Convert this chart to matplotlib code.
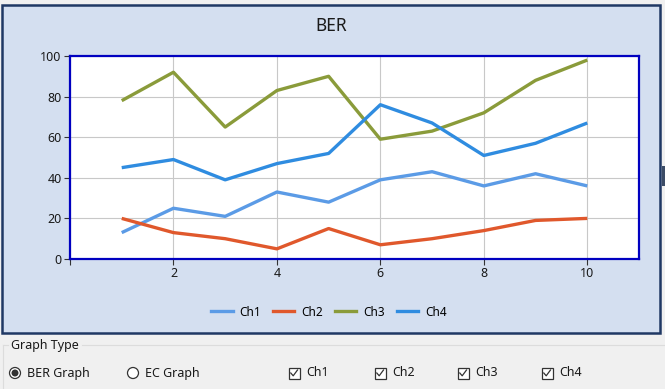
import matplotlib

matplotlib.use("Agg")
import matplotlib.pyplot as plt
from matplotlib.patches import Rectangle, Circle
from matplotlib.lines import Line2D

plt.rcParams["font.family"] = ["Noto Sans", "DejaVu Sans"]

x = [1, 2, 3, 4, 5, 6, 7, 8, 9, 10]
ch1 = [13, 25, 21, 33, 28, 39, 43, 36, 42, 36]
ch2 = [20, 13, 10, 5, 15, 7, 10, 14, 19, 20]
ch3 = [78, 92, 65, 83, 90, 59, 63, 72, 88, 98]
ch4 = [45, 49, 39, 47, 52, 76, 67, 51, 57, 67]
series_names = ["Ch1", "Ch2", "Ch3", "Ch4"]
colors = ["#5B9BE6", "#E0582C", "#8A9B3A", "#2F8CE0"]
x_ticks = [0, 2, 4, 6, 8, 10]
x_labels = ["", "2", "4", "6", "8", "10"]
y_ticks = [0, 20, 40, 60, 80, 100]

W, H = 665, 389
fig = plt.figure(figsize=(W / 100, H / 100), dpi=100, facecolor="#F0F0F0")


def px(x0, y0, w, h):
    # pixel box (top-left origin) -> figure fraction
    return [x0 / W, 1 - (y0 + h) / H, w / W, h / H]


# chart panel
fig.patches.append(Rectangle((2 / W, 1 - 333 / H), 658 / W, 328 / H, transform=fig.transFigure,
                             facecolor="#D4DFF0", edgecolor="#1F3864", lw=1.8, zorder=-2))
# bit of another control peeking on the right edge
fig.patches.append(Rectangle((662 / W, 1 - 186 / H), 3 / W, 20 / H, transform=fig.transFigure,
                             facecolor="#3C4C66", edgecolor="none", zorder=-2))

fig.text(331 / W, 1 - 26 / H, "BER", ha="center", va="center", fontsize=12.5, color="#1A1A1A")

ax = fig.add_axes(px(70, 56, 569, 203))
ax.set_facecolor("white")
for name, vals, c in zip(series_names, [ch1, ch2, ch3, ch4], colors):
    ax.plot(x, vals, color=c, lw=2.4, label=name, solid_capstyle="butt", zorder=3)
ax.set_xlim(0, 11)
ax.set_ylim(0, 100)
ax.set_xticks(x_ticks)
ax.set_xticklabels(x_labels)
ax.set_yticks(y_ticks)
ax.grid(True, color="#C8C8C8", lw=0.8)
for s in ax.spines.values():
    s.set_color("#0000C0")
    s.set_linewidth(1.6)
ax.tick_params(length=4, width=0.8, color="#333333", labelsize=9, labelcolor="#1A1A1A", pad=2)

handles = [Line2D([], [], color=c, lw=2.4) for c in colors]
fig.legend(handles, series_names, loc="center", bbox_to_anchor=(329 / W, 1 - 312 / H), ncol=4,
           frameon=False, fontsize=8.5, handlelength=1.8, columnspacing=1.0, handletextpad=0.6)

# group box
fig.add_artist(Line2D([82 / W, 1], [1 - 345 / H] * 2, color="#DCDCDC", lw=0.8))
fig.add_artist(Line2D([3 / W, 3 / W], [1 - 345 / H, 0], color="#DCDCDC", lw=0.8))
fig.add_artist(Line2D([3 / W, 8 / W], [1 - 345 / H] * 2, color="#DCDCDC", lw=0.8))
fig.text(11 / W, 1 - 345 / H, "Graph Type", ha="left", va="center", fontsize=9, color="#1A1A1A")

# radio buttons
ry = 373
for cx, label, on in [(15, "BER Graph", True), (133, "EC Graph", False)]:
    fig.patches.append(Circle((cx, H - ry), 5.5, transform=None, facecolor="white",
                              edgecolor="#333333", lw=0.9))
    if on:
        fig.patches.append(Circle((cx, H - ry), 3.5, transform=None, facecolor="#333333",
                                  edgecolor="none"))
    fig.text((cx + 12) / W, 1 - ry / H, label, ha="left", va="center", fontsize=9, color="#1A1A1A")

# check boxes
for bx, label in zip([294, 380, 463, 547], series_names):
    fig.patches.append(Rectangle((bx - 5.5, H - ry - 5.5), 11, 11, transform=None,
                                 facecolor="white", edgecolor="#333333", lw=0.9))
    fig.add_artist(Line2D([bx - 3.2, bx - 0.8, bx + 3.5], [H - ry, H - ry - 2.8, H - ry + 3],
                          transform=None, color="#333333", lw=0.9))
    fig.text((bx + 12) / W, 1 - ry / H, label, ha="left", va="center", fontsize=9, color="#1A1A1A")

fig.savefig("out.png", dpi=100, facecolor=fig.get_facecolor())
